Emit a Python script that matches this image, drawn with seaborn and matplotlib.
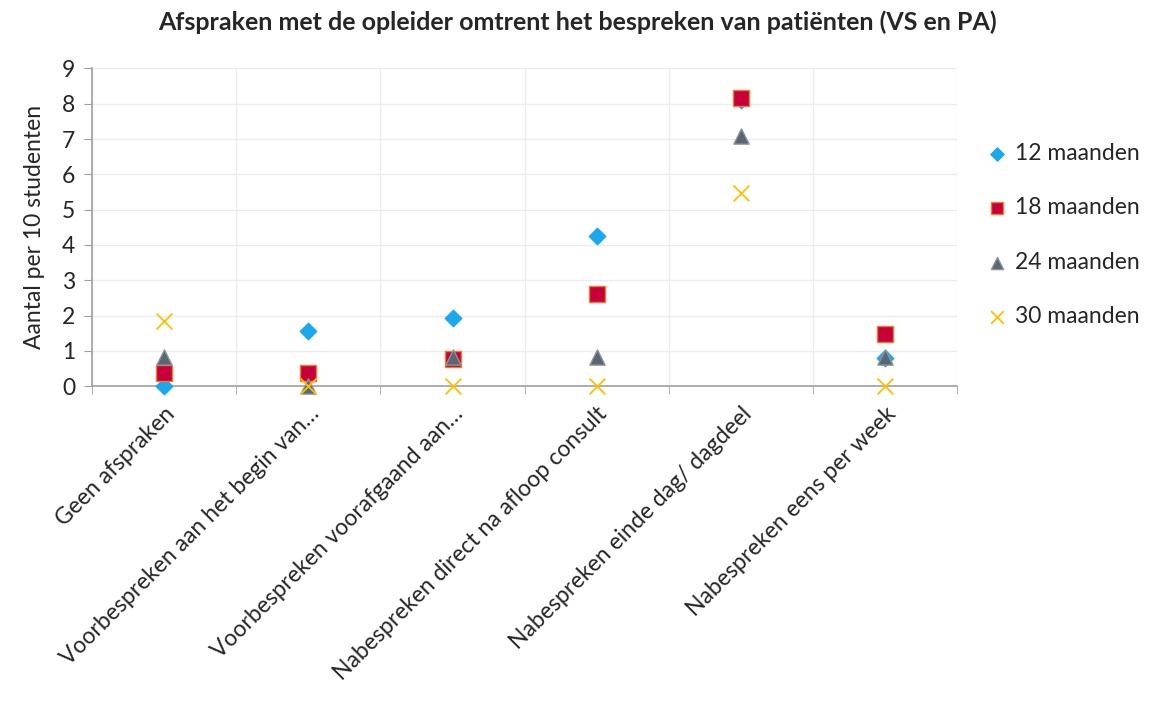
import numpy as np
import pandas as pd
import seaborn as sns
import matplotlib.pyplot as plt

categories = ['Geen afspraken', 'Voorbespreken aan het begin van…',
              'Voorbespreken voorafgaand aan…', 'Nabespreken direct na afloop consult',
              'Nabespreken einde dag/ dagdeel', 'Nabespreken eens per week']
series = ['12 maanden', '18 maanden', '24 maanden', '30 maanden']
m12 = [0.0, 1.56, 1.92, 4.25, 8.1, 0.8]
m18 = [0.37, 0.37, 0.76, 2.6, 8.15, 1.48]
m24 = [0.83, 0.0, 0.83, 0.83, 7.08, 0.83]
m30 = [1.84, 0.0, 0.0, 0.0, 5.46, 0.0]

markers = {'12 maanden': 'D', '18 maanden': 's', '24 maanden': '^', '30 maanden': 'x'}
colors = {'12 maanden': '#19a9ec', '18 maanden': '#c8003a', '24 maanden': '#5a6672', '30 maanden': '#ffc000'}
edges = {'12 maanden': '#19a9ec', '18 maanden': '#f07a30', '24 maanden': '#8a949e', '30 maanden': '#ffc000'}
sizes = {'12 maanden': 70, '18 maanden': 130, '24 maanden': 120, '30 maanden': 130}

df = pd.DataFrame({'categorie': categories * 4,
                   'groep': np.repeat(series, len(categories)),
                   'waarde': m12 + m18 + m24 + m30})
df['pos'] = np.tile(np.arange(len(categories)), 4)

sns.set_style('white')
plt.rcParams['font.family'] = ['Lato', 'DejaVu Sans']
fs = 16.5

fig = plt.figure(figsize=(11.55, 7.06), dpi=100)
ax = fig.add_axes([0.0797, 0.453, 0.749, 0.450])

for s in series:
    sub = df[df['groep'] == s]
    if markers[s] == 'x':
        sns.scatterplot(data=sub, x='pos', y='waarde', marker='x', color=colors[s],
                        s=sizes[s], linewidth=1.3, ax=ax, label=s, zorder=3, clip_on=False)
    else:
        sns.scatterplot(data=sub, x='pos', y='waarde', marker=markers[s], color=colors[s],
                        edgecolor=edges[s], s=sizes[s], linewidth=1.0, ax=ax, label=s,
                        zorder=3, clip_on=False)

ax.set_xlim(-0.5, len(categories) - 0.5)
ax.set_ylim(0, 9)
ax.set_yticks(range(10))
ax.set_xticks(np.arange(len(categories)))
ax.set_xticklabels(categories, rotation=45, ha='right', rotation_mode='anchor', fontsize=fs)
ax.set_xticks(np.arange(len(categories) + 1) - 0.5, minor=True)
ax.tick_params(axis='x', which='major', length=0, pad=12)
ax.tick_params(axis='x', which='minor', length=6, color='#a0a0a0', direction='out', bottom=True)
ax.tick_params(axis='y', length=6, color='#a0a0a0', direction='out', labelsize=fs, pad=6, left=True)
ax.grid(True, axis='y', color='#ececec', linewidth=1)
ax.grid(True, axis='x', which='minor', color='#ececec', linewidth=1)
ax.set_axisbelow(True)
for side in ['top', 'right']:
    ax.spines[side].set_visible(False)
for side in ['left', 'bottom']:
    ax.spines[side].set_color('#a0a0a0')
    ax.spines[side].set_linewidth(1.2)

ax.set_xlabel('')
ax.set_ylabel('Aantal per 10 studenten', fontsize=fs, labelpad=12)
fig.text(0.5, 0.968, 'Afspraken met de opleider omtrent het bespreken van patiënten (VS en PA)',
         ha='center', va='center', fontsize=18, fontweight='bold')

leg = ax.legend(loc='center left', bbox_to_anchor=(1.035, 0.476), frameon=False,
                fontsize=fs, labelspacing=1.45, handlelength=0.8, handletextpad=0.4,
                markerscale=0.8, borderaxespad=0, borderpad=0)

fig.savefig('out.png', dpi=100)
